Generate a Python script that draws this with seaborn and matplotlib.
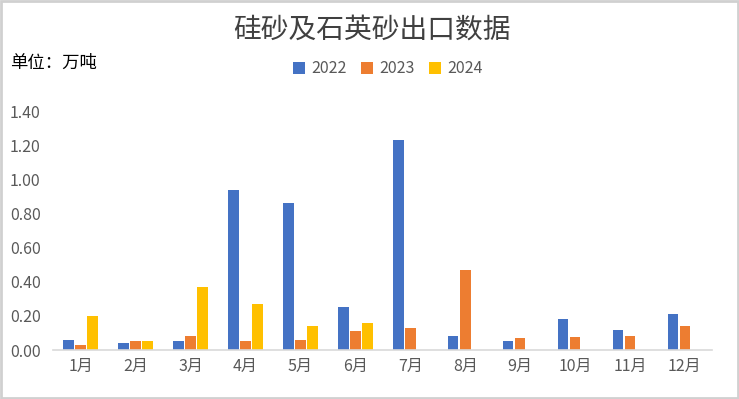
import numpy as np
import pandas as pd
import matplotlib
matplotlib.use('Agg')
import matplotlib.pyplot as plt
import seaborn as sns

# chart data (万吨)
months = ['1月', '2月', '3月', '4月', '5月', '6月', '7月', '8月', '9月', '10月', '11月', '12月']
v2022 = [0.06, 0.04, 0.05, 0.94, 0.86, 0.25, 1.23, 0.08, 0.055, 0.18, 0.115, 0.21]
v2023 = [0.03, 0.05, 0.08, 0.055, 0.06, 0.11, 0.13, 0.47, 0.07, 0.075, 0.08, 0.14]
v2024 = [0.20, 0.05, 0.37, 0.27, 0.14, 0.16, np.nan, np.nan, np.nan, np.nan, np.nan, np.nan]
years = ['2022', '2023', '2024']
colors = ['#4472C4', '#ED7D31', '#FFC000']

df = pd.DataFrame({'月份': months * 3,
                   '年份': [y for y in years for _ in months],
                   '出口量': v2022 + v2023 + v2024})

sns.set_style('white')
plt.rcParams['font.family'] = ['Noto Sans CJK SC', 'DejaVu Sans']

fig = plt.figure(figsize=(7.39, 3.99), dpi=100)
ax = fig.add_axes([0.072, 0.1228, 0.892, 0.599])

sns.barplot(data=df, x='月份', y='出口量', hue='年份', order=months, hue_order=years,
            palette=colors, width=0.66, gap=0.12, saturation=1, linewidth=0,
            ax=ax, legend=True)

ax.set_ylim(0, 1.4)
ticks = np.arange(0, 1.41, 0.2)
ax.set_yticks(ticks)
ax.set_yticklabels([f'{t:.2f}' for t in ticks])
ax.set_xlim(-0.5, 11.5)
ax.set_xlabel('')
ax.set_ylabel('')
for s in ['top', 'right', 'left']:
    ax.spines[s].set_visible(False)
ax.spines['bottom'].set_color('#D9D9D9')
ax.spines['bottom'].set_linewidth(1.2)
ax.tick_params(axis='both', length=0, labelsize=11.5, colors='#595959')
ax.tick_params(axis='x', pad=6)
ax.tick_params(axis='y', pad=9)

leg = ax.legend(loc='center', bbox_to_anchor=(0.508, 1.176), ncol=3, frameon=False,
                fontsize=11.5, handlelength=0.75, handleheight=0.75, handletextpad=0.4,
                columnspacing=0.9, bbox_transform=ax.transAxes)
for t in leg.get_texts():
    t.set_color('#595959')

fig.text(0.503, 0.926, '硅砂及石英砂出口数据', ha='center', va='center', fontsize=20, color='#404040')
fig.text(0.013, 0.842, '单位：万吨', ha='left', va='center', fontsize=12.5, color='#000000')

# outer border
fig.patches.append(plt.Rectangle((0.002, 0.003), 0.996, 0.994, transform=fig.transFigure,
                                 fill=False, edgecolor='#D0D0D0', linewidth=2))

fig.savefig('out.png', dpi=100)
